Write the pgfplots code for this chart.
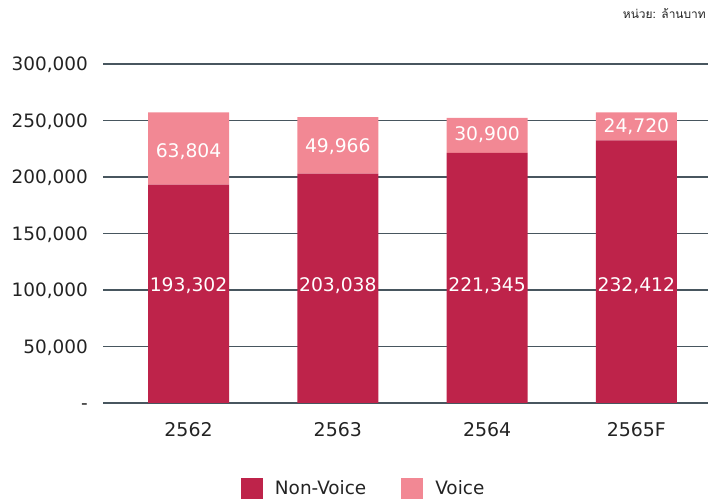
\documentclass[border=0pt]{standalone}
\usepackage{fontspec}
\setmainfont{DejaVu Sans}
\newfontfamily\thaifont[Script=Thai]{Loma}
\usepackage{pgfplots}
\pgfplotsset{compat=1.18}
\definecolor{nonvoice}{RGB}{190,35,74}
\definecolor{voice}{RGB}{242,136,148}
\definecolor{gridc}{RGB}{72,86,95}
\definecolor{txt}{RGB}{35,35,35}
\pgfplotsset{frame/.style={
  at={(103bp,96bp)}, anchor=south west,
  scale only axis, width=605bp, height=339bp,
  xmin=-0.573, xmax=3.48, ymin=0, ymax=300000}}
\begin{document}
\begin{tikzpicture}[x=1bp,y=1bp]
\path[use as bounding box] (0,0) rectangle (708,499);
\begin{axis}[frame,
  ybar stacked, bar width=81bp,
  xtick={0,1,2,3}, xticklabels={2562,2563,2564,2565F},
  ytick={0,50000,100000,150000,200000,250000,300000},
  yticklabels={-,{50,000},{100,000},{150,000},{200,000},{250,000},{300,000}},
  scaled y ticks=false,
  axis line style={draw=none}, major tick length=0pt,
  ymajorgrids, grid style={line width=1.3bp, color=gridc},
  yticklabel style={anchor=base east, inner sep=0pt, xshift=-15bp, yshift=-6.6bp,
    font=\fontsize{18.5}{20}\selectfont, text=txt},
  xticklabel style={anchor=base, inner sep=0pt, yshift=-34bp,
    font=\fontsize{19}{21}\selectfont, text=txt},
  legend columns=2,
  legend image code/.code={\fill[#1] (0bp,-10.5bp) rectangle (22bp,10.5bp);},
  legend style={at={(0.228,-0.2522)}, anchor=west, draw=none, fill=none,
    inner sep=0pt, outer sep=0pt,
    font=\fontsize{18.5}{20}\selectfont, text=txt,
    /tikz/every odd column/.append style={column sep=10bp},
    /tikz/every even column/.append style={column sep=33bp}},
  legend cell align=left,
]
\addplot[fill=nonvoice, draw=none] coordinates {(0,193302) (1,203038) (2,221345) (3,232412)};
\addplot[fill=voice, draw=none] coordinates {(0,63804) (1,49966) (2,30900) (3,24720)};
\legend{Non-Voice, Voice}
\end{axis}
\begin{axis}[frame, hide axis, clip=false]
\addplot[only marks, mark=none, point meta=explicit symbolic,
  nodes near coords,
  nodes near coords style={anchor=base, inner sep=0pt, yshift=-6.8bp, text=white,
    font=\fontsize{18.8}{20}\selectfont}]
  coordinates {
  (0,105000) [193,302]
  (1,105000) [203,038]
  (2,105000) [221,345]
  (3,105000) [232,412]
  (0,223000) [63,804]
  (1,227500) [49,966]
  (2,238500) [30,900]
  (3,245000) [24,720]
  };
\end{axis}
\node[anchor=base east, inner sep=0pt, text=txt, font=\thaifont\fontsize{12}{14}\selectfont] at (706,480) {หน่วย: ล้านบาท};
\end{tikzpicture}
\end{document}
